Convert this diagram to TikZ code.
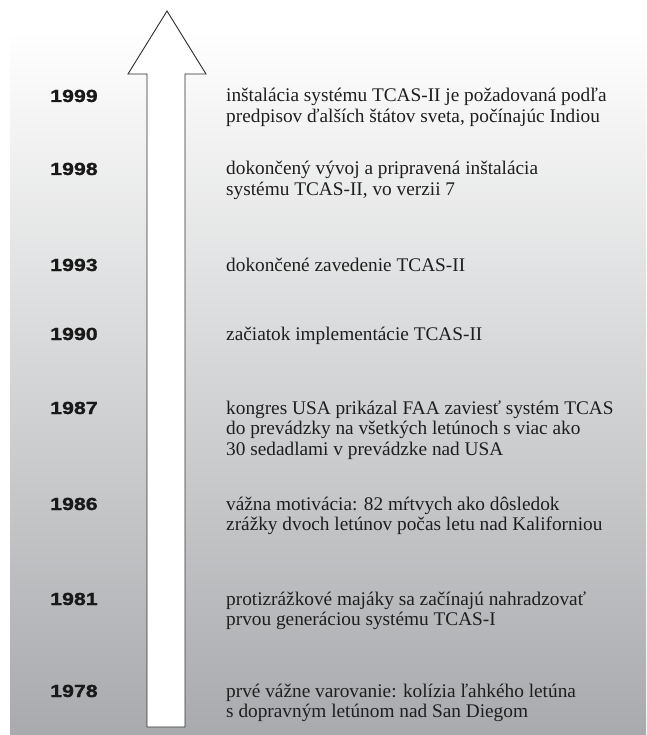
\documentclass[tikz,border=0pt]{standalone}
\usepackage{fontspec}
\setmainfont{Liberation Serif}
\newfontfamily\yearfont[FakeStretch=1.22,FakeBold=1.2]{Liberation Sans Bold}
\definecolor{bgbottom}{RGB}{168,170,173}
\definecolor{arrowline}{RGB}{45,45,45}
\definecolor{yearcol}{RGB}{25,25,25}
\definecolor{textcol}{RGB}{30,30,30}
\newcommand{\evlines}[1]{\vtop{\baselineskip=20.8pt\halign{##\hfil\cr#1\crcr}}}
\tikzset{
  year/.style={anchor=base west, inner sep=0pt, font=\yearfont\fontsize{17.5}{20}\selectfont, text=yearcol},
  event/.style={anchor=base west, inner sep=0pt, font=\fontsize{19.3}{20.8}\selectfont, text=textcol},
  bigarrow/.style={draw=arrowline, fill=white, line width=0.9pt, line join=miter}
}
\begin{document}
\begin{tikzpicture}[x=1pt, y=-1pt]
\useasboundingbox (0,0) rectangle (646,735);
\shade[top color=white, bottom color=bgbottom] (10,30) rectangle (646,735);
\draw[bigarrow] (147,727) -- (147,74) -- (128,74) -- (167,11) -- (206,74) -- (185,74) -- (185,727) -- cycle;
\node[year] (y1999) at (50,102) {1999};
\node[year] (y1998) at (50,175) {1998};
\node[year] (y1993) at (50,271) {1993};
\node[year] (y1990) at (50,340) {1990};
\node[year] (y1987) at (50,414) {1987};
\node[year] (y1986) at (50,510) {1986};
\node[year] (y1981) at (50,605) {1981};
\node[year] (y1978) at (50,697) {1978};
\node[event] (e1999) at (226,102) {\evlines{inštalácia systému TCAS-II je požadovaná podľa\cr predpisov ďalších štátov sveta, počínajúc Indiou}};
\node[event] (e1998) at (226,175) {\evlines{dokončený vývoj a pripravená inštalácia\cr systému TCAS-II, vo verzii 7}};
\node[event] (e1993) at (226,271) {\evlines{dokončené zavedenie TCAS-II}};
\node[event] (e1990) at (226,340) {\evlines{začiatok implementácie TCAS-II}};
\node[event] (e1987) at (226,414) {\evlines{kongres USA prikázal FAA zaviesť systém TCAS\cr do prevádzky na všetkých letúnoch s viac ako\cr 30 sedadlami v prevádzke nad USA}};
\node[event] (e1986) at (226,510) {\evlines{vážna motivácia: 82 mŕtvych ako dôsledok\cr zrážky dvoch letúnov počas letu nad Kaliforniou}};
\node[event] (e1981) at (226,605) {\evlines{protizrážkové majáky sa začínajú nahradzovať\cr prvou generáciou systému TCAS-I}};
\node[event] (e1978) at (226,697) {\evlines{prvé vážne varovanie: kolízia ľahkého letúna\cr s dopravným letúnom nad San Diegom}};
\end{tikzpicture}
\end{document}
